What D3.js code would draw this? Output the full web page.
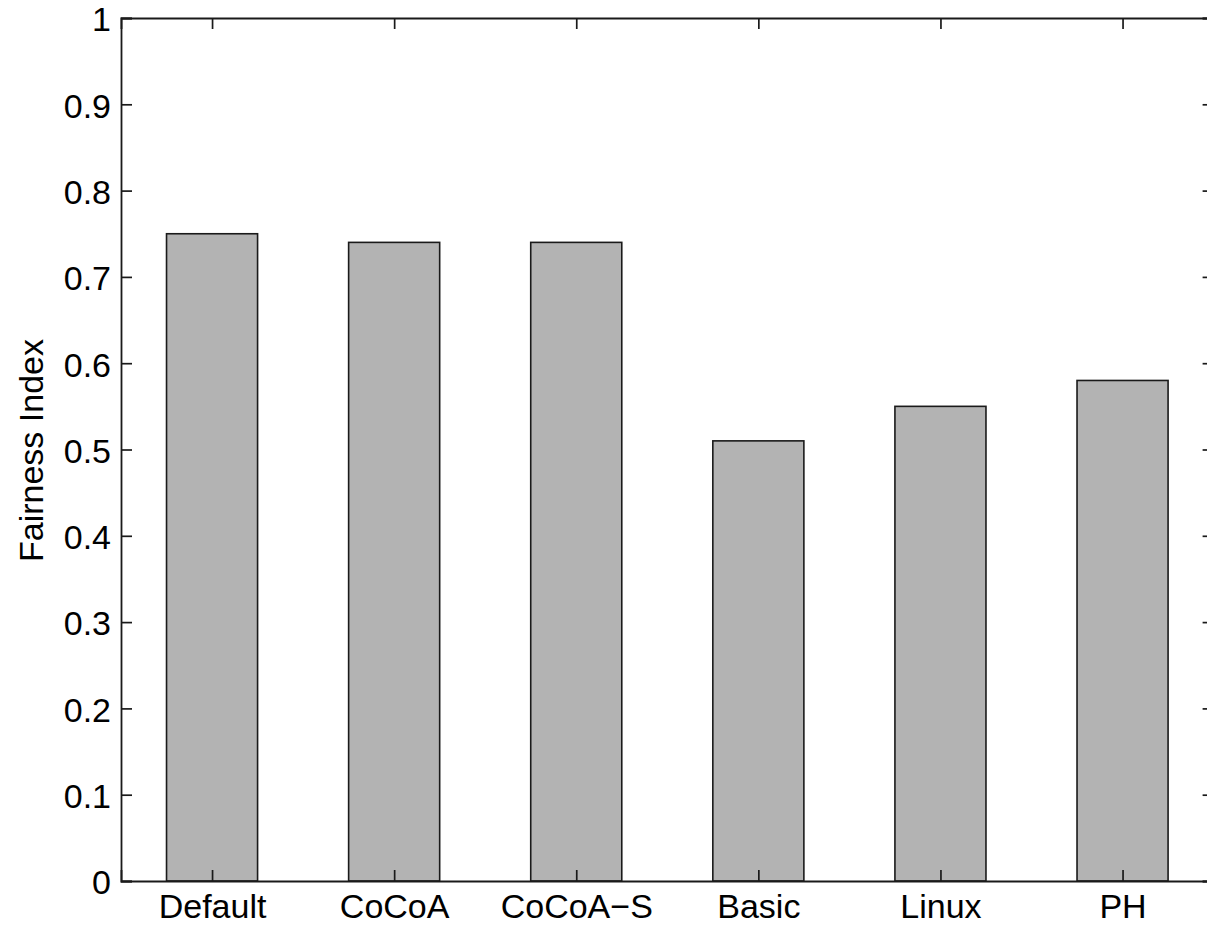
<!DOCTYPE html>
<html>
<head>
<meta charset="utf-8">
<script src="https://cdn.jsdelivr.net/npm/d3@7"></script>
<style>
  html, body { margin: 0; padding: 0; background: #fff; }
  svg { display: block; }
  text { font-family: "Liberation Sans", Arial, Helvetica, sans-serif; fill: #000; }
</style>
</head>
<body>
<svg id="chart" width="1207" height="925"></svg>
<script>
// Fairness index per scheduling policy
const categories = ["Default", "CoCoA", "CoCoA\u2212S", "Basic", "Linux", "PH"];
const fairness = [0.75, 0.74, 0.74, 0.51, 0.55, 0.58];
const yTicks = [0, 0.1, 0.2, 0.3, 0.4, 0.5, 0.6, 0.7, 0.8, 0.9, 1];
const yTickLabels = ["0", "0.1", "0.2", "0.3", "0.4", "0.5", "0.6", "0.7", "0.8", "0.9", "1"];

const svg = d3.select("#chart");
const plotLeft = 121, plotTop = 18, plotBottom = 881;
const step = 182.1;
const plotRight = plotLeft + step * categories.length;

const x = d3.scaleLinear().domain([0.5, categories.length + 0.5]).range([plotLeft, plotRight]);
const y = d3.scaleLinear().domain([0, 1]).range([plotBottom, plotTop]);
const barWidth = 0.5;
const idx = categories.map((_, i) => i + 1);

// bars
svg.append("g").selectAll("rect")
  .data(fairness)
  .join("rect")
  .attr("x", (d, i) => x(idx[i] - barWidth / 2))
  .attr("width", (d, i) => x(idx[i] + barWidth / 2) - x(idx[i] - barWidth / 2))
  .attr("y", d => y(d))
  .attr("height", d => y(0) - y(d))
  .attr("fill", "#b3b3b3")
  .attr("stroke", "#1a1a1a")
  .attr("stroke-width", 1.6);

const fontSize = 34;
const tickLen = 11;

// left axis (ticks point inward, labels outside)
const yAxis = d3.axisLeft(y).tickValues(yTicks)
  .tickFormat((d, i) => yTickLabels[i]).tickSize(-tickLen).tickPadding(10);
const gy = svg.append("g").attr("transform", `translate(${plotLeft},0)`).call(yAxis);

// right axis (ticks only, pointing inward)
const gyr = svg.append("g").attr("transform", `translate(${plotRight},0)`)
  .call(d3.axisRight(y).tickValues(yTicks).tickSize(-tickLen).tickFormat(""));

// bottom axis
const xAxis = d3.axisBottom(x).tickValues(idx)
  .tickFormat((d, i) => categories[i]).tickSize(-tickLen).tickPadding(13);
const gx = svg.append("g").attr("transform", `translate(0,${plotBottom})`).call(xAxis);

// top axis (ticks only)
const gxt = svg.append("g").attr("transform", `translate(0,${plotTop})`)
  .call(d3.axisTop(x).tickValues(idx).tickSize(-tickLen).tickFormat(""));

[gy, gyr, gx, gxt].forEach(g => {
  g.select(".domain").attr("stroke", "#1a1a1a").attr("stroke-width", 1.8);
  g.selectAll(".tick line").attr("stroke", "#1a1a1a").attr("stroke-width", 1.7);
  g.selectAll(".tick text").attr("font-size", fontSize)
    .attr("font-family", "'Liberation Sans', Arial, sans-serif").attr("fill", "#000");
});
gx.selectAll(".tick text").attr("dy", "0.71em");
gy.selectAll(".tick text").attr("y", 2);

// y-axis title
svg.append("text")
  .attr("transform", `translate(43,${(plotTop + plotBottom) / 2 + 1}) rotate(-90)`)
  .attr("text-anchor", "middle")
  .attr("font-size", 34)
  .text("Fairness Index");
</script>
</body>
</html>
